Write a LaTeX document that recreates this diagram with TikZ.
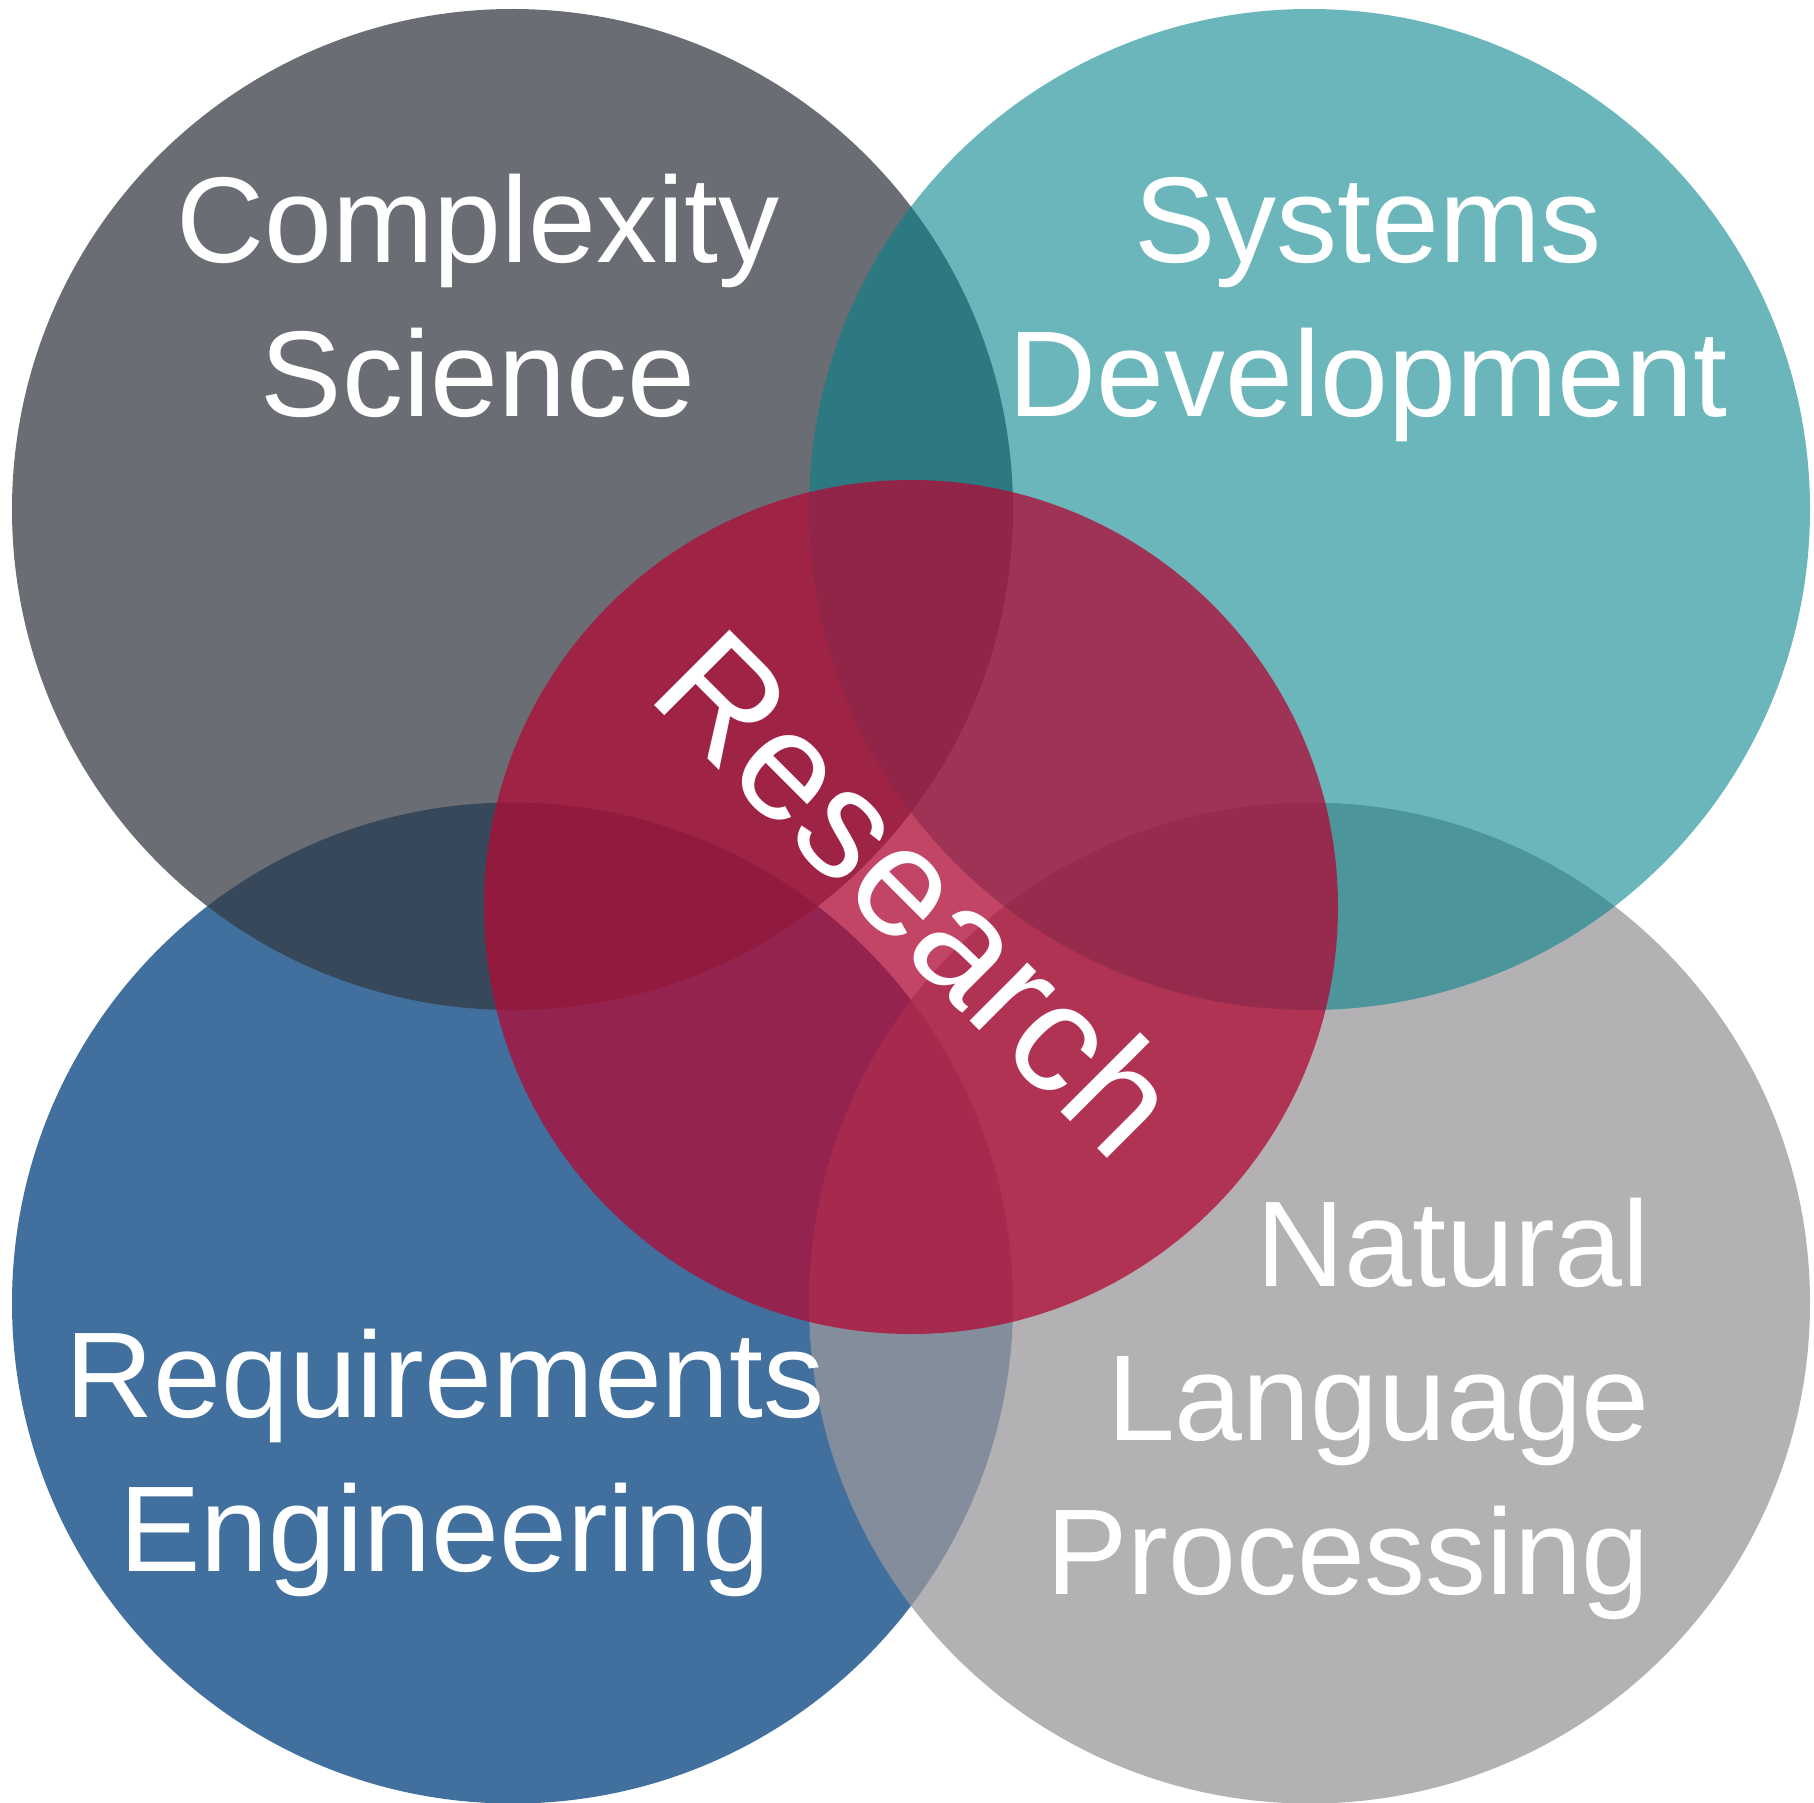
\documentclass[tikz,border=0pt]{standalone}
\usepackage{fontspec}
\setmainfont{Liberation Sans}
\definecolor{complexgray}{RGB}{54,59,68}
\definecolor{systemsteal}{RGB}{0,129,138}
\definecolor{reqblue}{RGB}{65,112,159}
\definecolor{nlpgray}{RGB}{154,151,155}
\definecolor{researchred}{RGB}{176,12,55}
\tikzset{
  fieldtext/.style={text=white,inner sep=0pt,anchor=base,font=\fontsize{122}{154}\selectfont},
  researchtext/.style={fieldtext,font=\fontsize{155}{180}\selectfont,rotate=-45}
}
\begin{document}
\begin{tikzpicture}[x=1pt,y=-1pt]
    \useasboundingbox (0,0) rectangle (1814,1803);
    % circles
    \fill[reqblue] (512.5,1303) circle (500.5);
    \fill[complexgray,fill opacity=0.74] (512.5,509.5) circle (500.5);
    \fill[nlpgray,fill opacity=0.75] (1309.5,1303) circle (500.5);
    \fill[systemsteal,fill opacity=0.58] (1309.5,509.5) circle (500.5);
    \fill[researchred,fill opacity=0.765] (911,907) circle (427);
    % labels
    \node[fieldtext] (complexity) at (478,262) {Complexity};
    \node[fieldtext] (science) at (478,416) {Science};
    \node[fieldtext] (systems) at (1368,262) {Systems};
    \node[fieldtext] (development) at (1368,416) {Development};
    \node[fieldtext] (requirements) at (445,1417) {Requirements};
    \node[fieldtext] (engineering) at (445,1571) {Engineering};
    \node[fieldtext,anchor=base east] (natural) at (1650,1286) {Natural};
    \node[fieldtext,anchor=base east] (language) at (1650,1440) {Language};
    \node[fieldtext,anchor=base east] (processing) at (1650,1594) {Processing};
    \node[researchtext] (research) at (880,931) {Research};
\end{tikzpicture}
\end{document}
